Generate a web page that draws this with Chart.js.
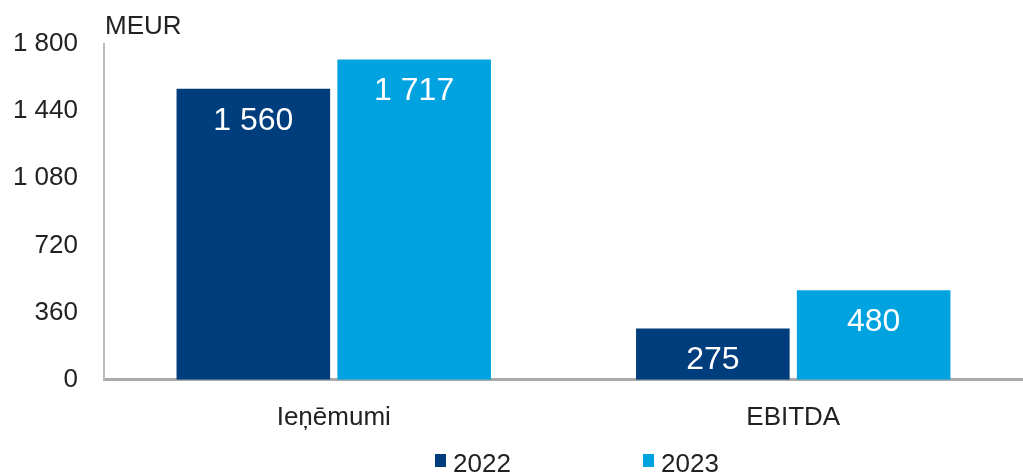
<!DOCTYPE html>
<html>
<head>
<meta charset="utf-8">
<script src="https://cdn.jsdelivr.net/npm/chart.js@4/dist/chart.umd.min.js"></script>
<style>
  html, body { margin: 0; padding: 0; background: #fff; }
  #wrap { width: 1023px; height: 474px; position: relative; }
</style>
</head>
<body>
<div id="wrap"><canvas id="graph"></canvas></div>
<script>
const categories = ["Ieņēmumi", "EBITDA"];
const years = ["2022", "2023"];
const values2022 = [1560, 275];
const values2023 = [1717, 480];
const unitLabel = "MEUR";

const colors = ["rgba(0, 61, 124, 1.0)", "rgba(0, 163, 224, 1.0)"];
const fontFamily = "'Liberation Sans', Arial, sans-serif";
const fmt = v => String(v).replace(/\B(?=(\d{3})+(?!\d))/g, " ");

// values inside bars, unit label, and the legend at the bottom
const extras = {
    id: 'extras',
    afterDatasetsDraw(chart) {
        const ctx = chart.ctx;
        ctx.save();
        ctx.fillStyle = '#fff';
        ctx.font = '32px ' + fontFamily;
        ctx.textAlign = 'center';
        ctx.textBaseline = 'middle';
        chart.data.datasets.forEach((ds, i) => {
            chart.getDatasetMeta(i).data.forEach((bar, j) => {
                ctx.fillText(fmt(ds.data[j]), bar.x, bar.y + 32);
            });
        });
        ctx.fillStyle = '#222';
        ctx.font = '26px ' + fontFamily;
        ctx.textAlign = 'left';
        ctx.textBaseline = 'alphabetic';
        ctx.fillText(unitLabel, chart.chartArea.left + 1, 34);

        // legend
        const legendX = [435, 643];
        chart.data.datasets.forEach((ds, i) => {
            ctx.fillStyle = ds.backgroundColor;
            ctx.fillRect(legendX[i], 454, 11, 13);
            ctx.fillStyle = '#222';
            ctx.fillText(ds.label, legendX[i] + 18, 472);
        });
        ctx.restore();
    }
};

const graph = document.getElementById('graph');
let barchart = new Chart(graph, {
    type: 'bar',
    data: {
        labels: categories,
        datasets: [{
            label: years[0],
            data: values2022,
            backgroundColor: colors[0],
            barPercentage: 0.955,
            categoryPercentage: 0.7
        }, {
            label: years[1],
            data: values2023,
            backgroundColor: colors[1],
            barPercentage: 0.955,
            categoryPercentage: 0.7
        }]
    },
    options: {
        responsive: true,
        maintainAspectRatio: false,
        animation: false,
        layout: { padding: { top: 44, right: 0, left: 0, bottom: 19 } },
        scales: {
            x: {
                grid: { display: false, drawTicks: false },
                border: { color: '#aaaaaa', width: 3 },
                ticks: { color: '#222', font: { family: fontFamily, size: 26 }, padding: 22 }
            },
            y: {
                min: 0,
                max: 1800,
                grid: { display: false, drawTicks: false },
                border: { color: '#bbbbbb', width: 2 },
                afterFit: scale => { scale.width = 104; },
                ticks: {
                    stepSize: 360,
                    color: '#222',
                    padding: 26,
                    font: { family: fontFamily, size: 26 },
                    callback: v => fmt(v)
                }
            }
        },
        plugins: {
            tooltip: { enabled: false },
            legend: { display: false }
        }
    },
    plugins: [extras]
});
</script>
</body>
</html>
